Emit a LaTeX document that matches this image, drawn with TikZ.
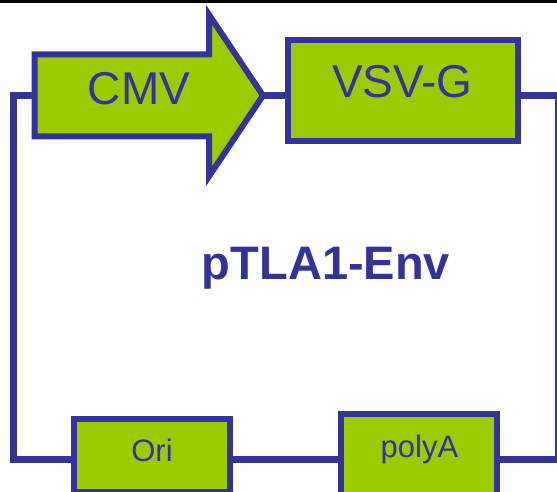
\documentclass[tikz,border=0pt]{standalone}
\usepackage{fontspec}
\setmainfont{Liberation Sans}
\definecolor{pblue}{HTML}{333399}
\definecolor{pgreen}{HTML}{99CC00}
\begin{document}
\begin{tikzpicture}[x=1bp,y=-1bp,
  wire/.style={draw=pblue, line width=7bp},
  box/.style={draw=pblue, fill=pgreen, line width=6bp, inner sep=0pt, outer sep=0pt, rectangle},
  lbl/.style={text=pblue, inner sep=0pt, anchor=base},
  bigtxt/.style={font=\fontsize{46bp}{50bp}\selectfont},
  smalltxt/.style={font=\fontsize{31bp}{34bp}\selectfont},
]
\useasboundingbox (0,0) rectangle (557,492);
\fill[black] (0,0) rectangle (557,2.7);
% CMV promoter arrow
\draw[pblue, fill=pgreen, line width=6bp, miter limit=10]
  (34.5,54.5) -- (209,54.5) -- (209,14.7) -- (263,95.5) -- (209,176.3) -- (209,136.5) -- (34.5,136.5) -- cycle;
\coordinate (cmvL) at (34.5,95.5);
\coordinate (cmvR) at (263,95.5);
% boxes
\node[box, minimum width=230bp, minimum height=100.7bp] (vsvg) at (403,90.65) {};
\node[box, minimum width=155.5bp, minimum height=73.3bp] (ori) at (151.75,455.65) {};
\node[box, minimum width=156bp, minimum height=82bp] (polya) at (419,455) {};
% wire corners
\coordinate (tl) at (13,95.5);
\coordinate (bl) at (13,459);
\coordinate (tr) at (558.5,95.5);
\coordinate (br) at (558.5,459);
% wires
\draw[wire] (cmvL) -- (tl) -- (bl) -- (bl -| ori.west);
\draw[wire] (ori.east |- bl) -- (polya.west |- bl);
\draw[wire] (polya.east |- bl) -- (br) -- (tr) -- (vsvg.east |- tr);
\draw[wire] (cmvR) -- (vsvg.west |- cmvR);
% labels
\node[lbl, bigtxt] (cmvtext) at (139,105) {CMV};
\node[lbl, bigtxt] (vsvgtext) at (402.4,97.7) {VSV-G};
\node[lbl, smalltxt] (oritext) at (152,461.5) {Ori};
\node[lbl, smalltxt] (polyatext) at (419.5,457) {polyA};
\node[lbl, font=\fontsize{47bp}{50bp}\selectfont\bfseries] (title) at (326,279.3) {pTLA1-Env};
\end{tikzpicture}
\end{document}
